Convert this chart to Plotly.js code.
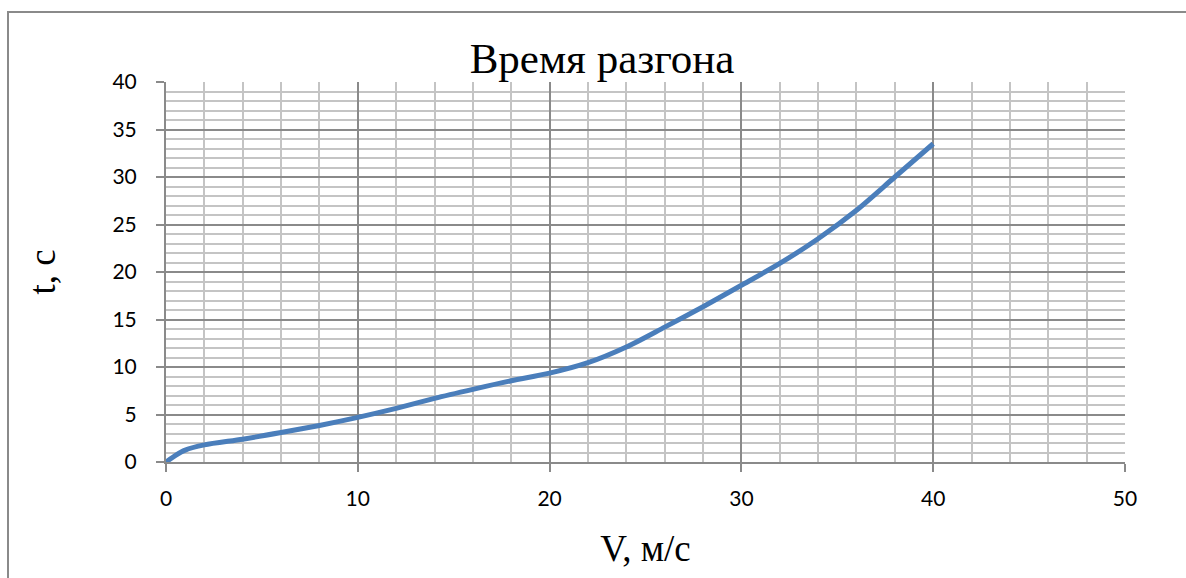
<!DOCTYPE html>
<html>
<head>
<meta charset="utf-8">
<script src="https://cdn.plot.ly/plotly-3.0.1.min.js"></script>
<style>
  html, body { margin: 0; padding: 0; background: #fff; }
  #wrap { position: relative; width: 1186px; height: 578px; overflow: hidden; }
  #chart { width: 1186px; height: 578px; }
  #frame {
    position: absolute; left: 7px; top: 11px; width: 1300px; height: 700px;
    border-left: 2px solid #8a8a8a; border-top: 2px solid #8a8a8a;
    pointer-events: none;
  }
</style>
</head>
<body>
<div id="wrap">
  <div id="chart"></div>
  <div id="frame"></div>
</div>
<script>
// Acceleration time versus speed
const speed = [0, 0.5, 1, 2, 4, 6, 8, 10, 12, 14, 16, 18, 20, 22, 24, 26, 28, 30, 32, 34, 36, 38, 40];
const time  = [0, 0.7, 1.25, 1.8, 2.4, 3.1, 3.85, 4.7, 5.65, 6.7, 7.65, 8.55, 9.35, 10.45, 12.1, 14.2, 16.35, 18.6, 20.9, 23.5, 26.5, 30.0, 33.5];

const chartTitle = 'Время разгона';
const xTitle = 'V, м/с';
const yTitle = 't, с';

const serif = '"Liberation Serif", "Times New Roman", serif';
const sans = 'Lato, "Open Sans", sans-serif';

const trace = {
  x: speed,
  y: time,
  type: 'scatter',
  mode: 'lines',
  line: { color: '#4a7ebb', width: 5, shape: 'spline', smoothing: 0.8 },
  hoverinfo: 'x+y'
};

const axisCommon = {
  showline: true, linecolor: '#8a8a8a', linewidth: 2,
  ticks: 'outside', ticklen: 8, tickcolor: '#8a8a8a', tickwidth: 2,
  showgrid: true, gridcolor: '#8a8a8a', gridwidth: 2,
  zeroline: false,
  tickfont: { family: sans, size: 21, color: '#000' }
};

const layout = {
  width: 1186, height: 578,
  margin: { l: 166, r: 61, t: 82, b: 116 },
  paper_bgcolor: '#fff', plot_bgcolor: '#fff',
  showlegend: false,
  title: {
    text: chartTitle,
    font: { family: serif, size: 43, color: '#000' },
    xref: 'container', x: 0.5076, xanchor: 'center',
    yref: 'container', y: 1 - 58 / 578, yanchor: 'middle'
  },
  xaxis: Object.assign({}, axisCommon, {
    range: [0, 50], dtick: 10, tick0: 0,
    minor: { dtick: 2, showgrid: true, gridcolor: '#c4c4c4', gridwidth: 2, ticks: '' },
    ticklabelstandoff: 9,
    title: { text: xTitle, font: { family: serif, size: 37, color: '#000' }, standoff: 26 }
  }),
  yaxis: Object.assign({}, axisCommon, {
    range: [0, 40], dtick: 5, tick0: 0,
    minor: { dtick: 1, showgrid: true, gridcolor: '#c4c4c4', gridwidth: 2, ticks: '' },
    ticklabelstandoff: 15,
    title: { text: yTitle, font: { family: serif, size: 37, color: '#000' }, standoff: 45 }
  })
};

Plotly.newPlot('chart', [trace], layout, { displayModeBar: false });
</script>
</body>
</html>
